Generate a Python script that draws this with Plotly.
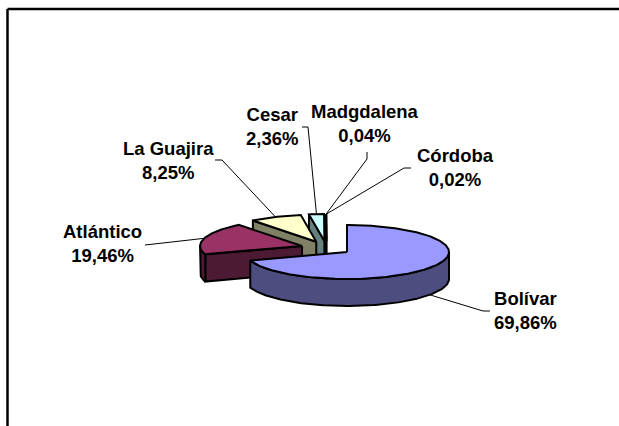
import numpy as np
import plotly.graph_objects as go

categories = ["Bolívar", "Atlántico", "La Guajira", "Cesar", "Madgdalena", "Córdoba"]
values = [69.86, 19.46, 8.25, 2.36, 0.04, 0.02]
value_labels = ["69,86%", "19,46%", "8,25%", "2,36%", "0,04%", "0,02%"]
top_colors = ["#9999FF", "#993366", "#FFFFCC", "#CCFFFF", "#660066", "#FF8080"]
side_colors = ["#4D4D80", "#4D1A33", "#808066", "#668080", "#330033", "#804040"]
label_x = [525, 102, 168, 272, 365, 455]
label_y = [310, 243, 160, 126, 123, 167]
elbow_x = [483, 145, 222, 308, 367, 404]
elbow_y = [311, 245, 160, 127, 159, 168]
leader_x = [490, 145, 215, 302, 367, 411]
leader_y = [311, 245, 160, 127, 152, 168]

CX, CY, RX, RY, DEPTH = 326.4, 248.0, 102.0, 27.0, 27.0
EXPL_X, EXPL_Y = 25.4, 6.9
LW = 2

fig = go.Figure()


def poly(xs, ys, color):
    fig.add_trace(go.Scatter(x=list(xs) + [xs[0]], y=list(ys) + [ys[0]], mode="lines",
                             fill="toself", fillcolor=color,
                             line=dict(color="black", width=LW), hoverinfo="skip",
                             showlegend=False))


def arc(t0, t1, ax, ay):
    t = np.radians(np.linspace(t0, t1, max(2, int(abs(t1 - t0)) + 2)))
    return ax + RX * np.sin(t), ay - RY * np.cos(t)


total = sum(values)
edges = np.concatenate([[0], np.cumsum(values)]) / total * 360
slices = []
for i in range(len(values)):
    s, e = edges[i], edges[i + 1]
    m = np.radians((s + e) / 2)
    ax, ay = CX + EXPL_X * np.sin(m), CY - EXPL_Y * np.cos(m)
    slices.append((i, s, e, ax, ay))

# painter's order: back slices first, the main slice last
for i, s, e, ax, ay in [slices[k] for k in (5, 4, 3, 2, 1, 0)]:
    for th in (s, e):
        visible = np.sin(np.radians(th)) < 0 if th == s else np.sin(np.radians(th)) > 0
        if visible:
            rx, ry = arc(th, th, ax, ay)
            poly([ax, rx[0], rx[0], ax], [ay, ry[0], ry[0] + DEPTH, ay + DEPTH], side_colors[i])
    r0, r1 = max(s, 90), min(e, 270)
    if r1 > r0:
        rx, ry = arc(r0, r1, ax, ay)
        poly(list(rx) + list(rx[::-1]), list(ry) + list(ry[::-1] + DEPTH), side_colors[i])
    rx, ry = arc(s, e, ax, ay)
    poly([ax] + list(rx), [ay] + list(ry), top_colors[i])

# leader lines and labels
for i, s, e, ax, ay in slices:
    m = (s + e) / 2
    rx, ry = arc(m, m, ax, ay)
    y0 = ry[0] + (DEPTH if 90 < m < 270 else 0)
    fig.add_trace(go.Scatter(x=[rx[0], elbow_x[i], leader_x[i]], y=[y0, elbow_y[i], leader_y[i]], mode="lines",
                             line=dict(color="black", width=1), hoverinfo="skip", showlegend=False))
    fig.add_annotation(x=label_x[i], y=label_y[i], text=f"{categories[i]}<br>{value_labels[i]}",
                       showarrow=False, xanchor="center", yanchor="middle", align="center",
                       font=dict(family="Liberation Sans", size=18.5, color="black", weight="bold"))

fig.update_layout(
    width=619, height=426, margin=dict(l=0, r=0, t=0, b=0),
    paper_bgcolor="white", plot_bgcolor="white", showlegend=False,
    xaxis=dict(range=[0, 619], visible=False, fixedrange=True),
    yaxis=dict(range=[426, 0], visible=False, fixedrange=True),
    shapes=[
        dict(type="line", xref="paper", yref="paper", x0=7.5 / 619, x1=1, y0=1 - 9 / 426, y1=1 - 9 / 426,
             line=dict(color="black", width=2.5)),
        dict(type="line", xref="paper", yref="paper", x0=7.5 / 619, x1=7.5 / 619, y0=0, y1=1 - 9 / 426,
             line=dict(color="black", width=2.5)),
    ],
)
fig.write_html("out.html", config={"displayModeBar": False},
               post_script="document.body.style.margin='0';document.body.style.overflow='hidden';")
